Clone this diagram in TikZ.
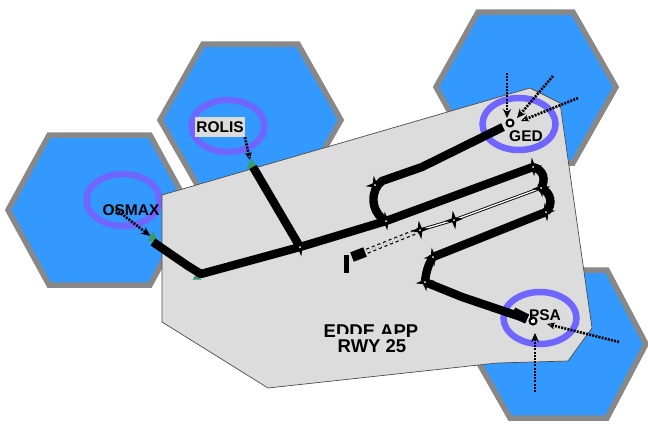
\documentclass[tikz,border=0pt]{standalone}
\usepackage{fontspec}
\setmainfont{Liberation Sans}
\usetikzlibrary{arrows.meta,shapes}
\definecolor{hexblue}{HTML}{3399FF}
\definecolor{hexgrey}{HTML}{888888}
\definecolor{sector}{HTML}{DCDCDC}
\definecolor{ringblue}{HTML}{6F66FF}
\definecolor{fixgreen}{HTML}{3A9A6A}
\tikzset{
hexcell/.style={draw=hexgrey,fill=hexblue,line width=5.5pt,miter limit=10},
ring/.style={draw=ringblue,line width=6.5pt,ellipse,minimum width=73pt,minimum height=52pt,inner sep=0pt},
fixname/.style={font=\bfseries\fontsize{15.5}{15.5}\selectfont,inner sep=0pt},
title/.style={font=\bfseries\fontsize{18.5}{18.5}\selectfont,inner sep=1pt},
leg/.style={line width=8.4pt},
wpt/.style={star,star points=4,star point ratio=3.4,fill=black,inner sep=0pt,minimum size=19pt,shape border rotate=8,
  path picture={\fill[white](path picture bounding box.center)circle[radius=1pt];}},
tick/.style={circle,fill=black,inner sep=0pt,minimum size=8pt},
inbound/.style={line width=2.6pt,dash pattern=on 2pt off 1.2pt,-{Stealth[length=9pt,width=8pt]}},
inboundopen/.style={line width=2.6pt,dash pattern=on 2pt off 1.2pt,-{Stealth[length=8pt,width=7pt,line width=1pt,fill=white]}},
fapline/.style={line width=.9pt,double=white,double distance=1.3pt},
greenmark/.style={regular polygon,regular polygon sides=3,fill=fixgreen,inner sep=0pt,minimum size=13pt},
dot/.style={circle,draw=black,line width=2pt,fill=white,inner sep=0pt,minimum size=7pt}
}
\begin{document}
\begin{tikzpicture}[x=1pt,y=-1pt,>=stealth]
\useasboundingbox(0,0)rectangle(648,424);
\draw[hexcell](8,210)--(49,135)--(150,135)--(191,210)--(150,285)--(49,285)--cycle;
\draw[hexcell](160,120)--(203,44)--(298,44)--(341,120)--(298,195)--(203,195)--cycle;
\draw[hexcell](436,87)--(478,12)--(573,12)--(616,87)--(573,163)--(478,163)--cycle;
\draw[hexcell](468,344)--(510,270)--(607,270)--(646,344)--(607,418)--(510,418)--cycle;
\node[ring](osmaxring)at(123,200){};
\node[greenmark,minimum size=5pt](osmaxmark)at(114,208){};
\node[greenmark](g1)at(153,238){};
\draw[inbound](osmaxmark)--(g1);
\node[fixname](osmaxlabel)at(131,210){OSMAX};
\draw[fill=sector,line width=.7pt,draw=black!70](162,195)--(530,88)--(560,103)--(592,328)--(568,361)--(497,363)--(268,388)--(162,322)--cycle;
\node[ring](rolisring)at(228,126){};
\node[fixname,fill=sector,minimum height=20pt,inner xsep=1pt](rolislabel)at(220,127){ROLIS};
\node[ring](gedring)at(519,124){};
\node[ring](psaring)at(540,318){};
% nodes of the route
\coordinate(a1)at(153,242);
\coordinate(a2)at(188,266);
\coordinate(a3)at(201,274);
\coordinate(ged)at(503,127);
\coordinate(psa)at(527,319);
\coordinate(rolisend)at(253,167);
\coordinate(b6)at(422,167);
\coordinate(b7)at(462,297);
\coordinate(b1)at(300,247);
\coordinate(b2)at(386,221);
\coordinate(b3)at(375,185);
\coordinate(b4)at(533,167);
\coordinate(b5)at(541,188);
\coordinate(c1)at(546,212);
\coordinate(c2)at(433,257);
\coordinate(c3)at(425,282);
\coordinate(c4)at(454,220);
\coordinate(c5)at(420,230);
\coordinate(thr)at(365,252);
\coordinate(thrb)at(352,257);
\node[greenmark](g2)at(252,165){};
\node[greenmark,minimum size=10pt](g3)at(197,277){};
\draw[leg,line join=round](a1)--(a2)--(a3)--(b1)--(b2);
\draw[leg](rolisend)--(b1);
\draw[leg](b2)--(b4);
\draw[leg](b2)..controls(370,212)and(370,190)..(382,181)--(b6)--(ged);
\draw[leg](b4)..controls(544,170)and(546,180)..(b5);
\draw[leg](b5)..controls(552,193)and(553,205)..(c1);
\draw[leg](c1)--(c2);
\draw[leg](c2)..controls(428,265)and(426,272)..(c3);
\draw[leg](c3)--(b7)--(psa);
\draw[line width=10pt](thrb)--(thr);
\draw[line width=10pt](513,312)--(psa);
\draw[line width=5pt](346,255)--(346,273);
\draw[fapline](b5)--(c4);
\draw[fapline](c4)--(c5);
\draw[line width=1.2pt,dashed,double=sector,double distance=3pt](c5)--(thr);
\foreach \p in {b1,b2,b3,b4,b5,c1,c2,c3,c4,c5}{\node[wpt]at(\p){};}
\node[tick,minimum size=5pt](b6top)at(b6){};
\node[tick,minimum size=4pt](b7top)at(b7){};
\node[dot](geddot)at(510,123){};
\node[dot](psadot)at(533,321){};
\coordinate(g0a)at(507,73);
\coordinate(g0b)at(553,76);
\coordinate(g0c)at(578,98);
\coordinate(p0a)at(535,392);
\coordinate(p0b)at(619,342);
\draw[inbound](g0a)--(507,118);
\draw[inbound](g0b)--(517,118);
\draw[inboundopen](g0c)--(521,121);
\draw[inbound](p0a)--(535,333);
\draw[inboundopen](p0b)--(547,324);
\draw[inboundopen](rolislabel.south east)--(250,160);
\node[fixname](gedlabel)at(526,136){GED};
\node[fixname](psalabel)at(545,315){PSA};
\node[title](eddelabel)at(371,331){EDDE APP};
\node[title,fill=sector,inner ysep=5pt](rwylabel)at(372,346){RWY 25};
\end{tikzpicture}
\end{document}
